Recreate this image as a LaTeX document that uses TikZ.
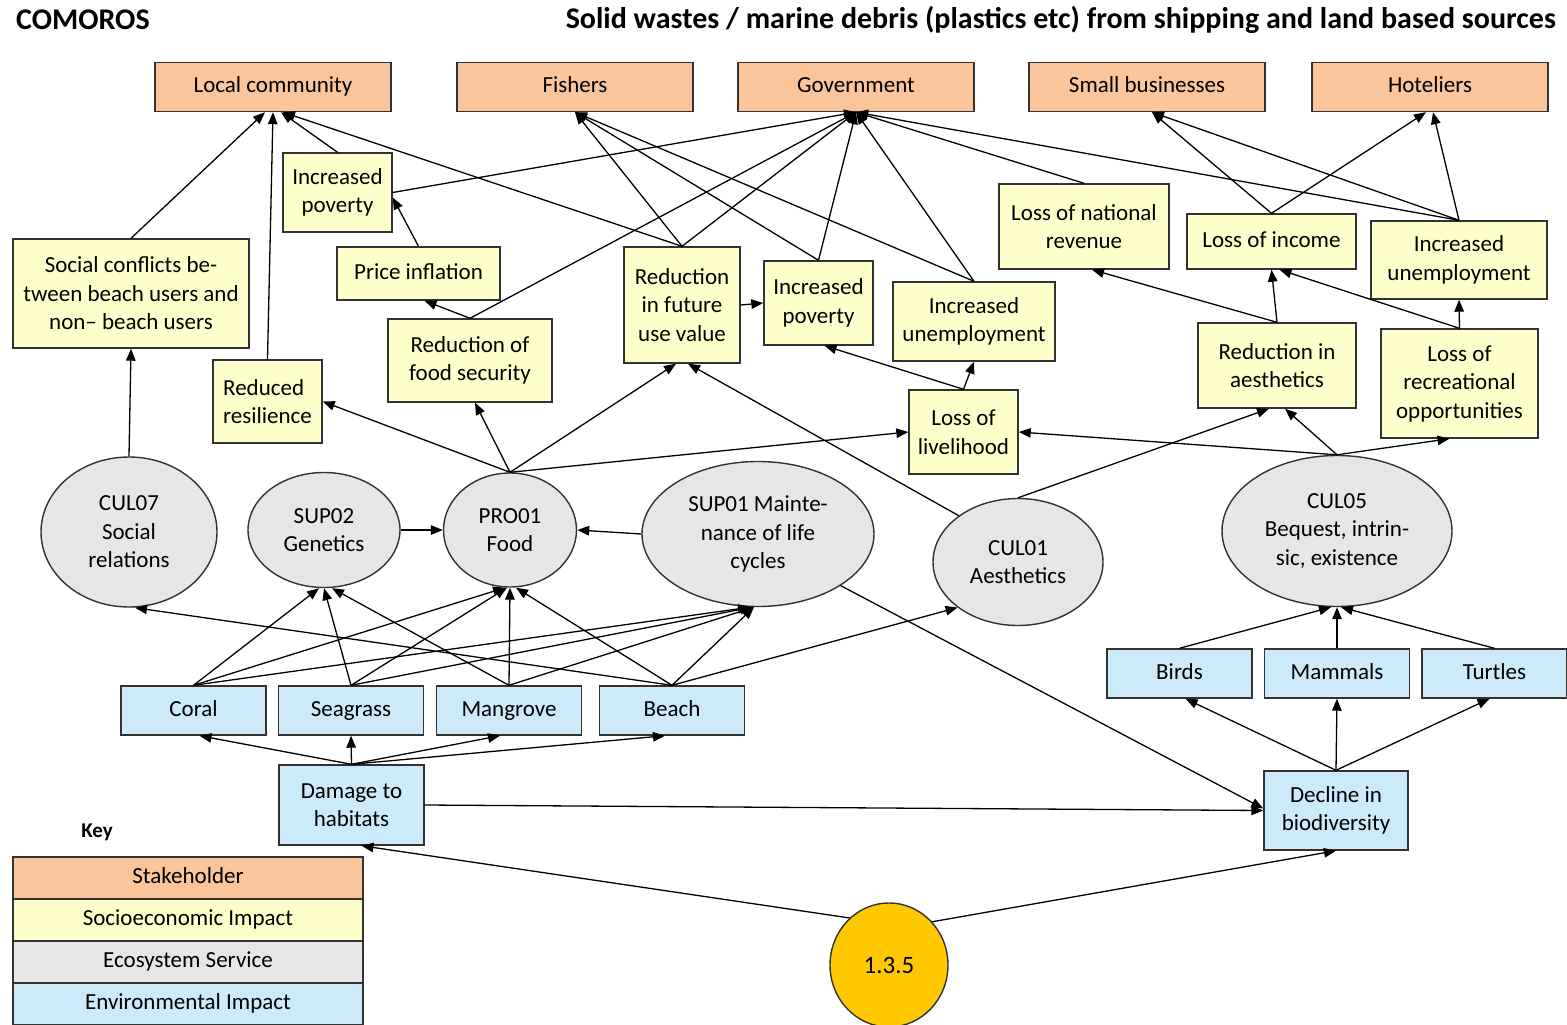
\documentclass[tikz,border=0pt]{standalone}
\usepackage{fontspec}
\setmainfont{Carlito}
\usetikzlibrary{arrows.meta,shapes.geometric}

\definecolor{stakefill}{RGB}{250,197,155}
\definecolor{sociofill}{RGB}{255,255,204}
\definecolor{ecofill}{RGB}{230,230,230}
\definecolor{envfill}{RGB}{204,234,250}
\definecolor{goldfill}{RGB}{255,200,0}
\definecolor{edgegray}{RGB}{50,50,50}

\newcommand{\nodefont}{\fontsize{23}{28.5}\selectfont}

\tikzset{
  box/.style={rectangle, draw=edgegray, line width=1.4pt, inner sep=2pt, align=center, font=\nodefont},
  oneline/.style={text height=16pt, text depth=5pt},
  stake/.style={box, oneline, fill=stakefill, minimum width=236pt, minimum height=49pt},
  socio/.style={box, fill=sociofill},
  envi/.style={box, fill=envfill},
  eco/.style={ellipse, draw=edgegray, line width=1.4pt, fill=ecofill, inner sep=0pt, align=center, font=\nodefont},
  keyrow/.style={rectangle, oneline, draw=edgegray, line width=1.4pt, minimum width=350pt, minimum height=42pt, font=\nodefont, inner sep=0pt},
  link/.style={line width=1.3pt, -{Triangle[length=12pt,width=9.5pt]}},
  heading/.style={font=\fontsize{30}{34}\selectfont\bfseries, inner sep=0pt},
}

\begin{document}
\begin{tikzpicture}[x=1pt,y=-1pt]
\useasboundingbox (0,0) rectangle (1567,1025);

% headings
\node[heading, anchor=west] (country) at (16,20) {COMOROS};
\node[heading, anchor=east] (pressure) at (1556,20) {Solid wastes / marine debris (plastics etc) from shipping and land based sources};

% stakeholders
\node[stake] (loc)   at (273,87)  {Local community};
\node[stake] (fish)  at (575,87)  {Fishers};
\node[stake] (gov)   at (856,87)  {Government};
\node[stake] (small) at (1147,87) {Small businesses};
\node[stake] (hotel) at (1430,87) {Hoteliers};

% socioeconomic impacts
\node[socio, minimum width=109pt, minimum height=79pt]  (povL)   at (337.5,192.5) {Increased\\poverty};
\node[socio, minimum width=236pt, minimum height=109pt] (social) at (131,293.5)   {Social conflicts be-\\tween beach users and\\non-- beach users};
\node[socio, oneline, minimum width=163pt, minimum height=53pt]  (price)  at (418.5,273.5) {Price inflation};
\node[socio, minimum width=164pt, minimum height=83pt]  (food)   at (470,360.5)   {Reduction of\\food security};
\node[socio, align=left, minimum width=109pt, minimum height=83pt]  (resil)  at (267.5,401.5) {Reduced\\resilience};
\node[socio, minimum width=116pt, minimum height=116pt] (future) at (682,305)     {Reduction\\in future\\use value};
\node[socio, minimum width=109pt, minimum height=84pt]  (povM)   at (818.5,303)   {Increased\\poverty};
\node[socio, minimum width=162pt, minimum height=79pt]  (unempM) at (974,321.5)   {Increased\\unemployment};
\node[socio, minimum width=109pt, minimum height=84pt]  (liveli) at (963.5,432)   {Loss of\\livelihood};
\node[socio, minimum width=170pt, minimum height=85pt]  (natrev) at (1084,226.5)  {Loss of national\\revenue};
\node[socio, oneline, minimum width=169pt, minimum height=55pt]  (income) at (1271.5,241.5) {Loss of income};
\node[socio, minimum width=176pt, minimum height=78pt]  (unempR) at (1459,260)    {Increased\\unemployment};
\node[socio, minimum width=158pt, minimum height=85pt]  (aesth)  at (1277,365.5)  {Reduction in\\aesthetics};
\node[socio, minimum width=157pt, minimum height=109pt] (recre)  at (1459.5,383.5) {Loss of\\recreational\\opportunities};

% ecosystem services
\node[eco, minimum width=176pt, minimum height=150pt] (cul07) at (129,532)  {CUL07\\Social\\relations};
\node[eco, minimum width=152pt, minimum height=115pt] (sup02) at (324,530)  {SUP02\\Genetics};
\node[eco, minimum width=133pt, minimum height=114pt] (pro01) at (510,530)  {PRO01\\Food};
\node[eco, minimum width=232pt, minimum height=145pt] (sup01) at (758,534)  {SUP01 Mainte-\\nance of life\\cycles};
\node[eco, minimum width=170pt, minimum height=127pt] (cul01) at (1018,562) {CUL01\\Aesthetics};
\node[eco, minimum width=230pt, minimum height=151pt] (cul05) at (1337,531) {CUL05\\Bequest, intrin-\\sic, existence};

% environmental impacts
\node[envi, oneline, minimum width=145pt, minimum height=49pt] (coral)    at (193.5,710.5) {Coral};
\node[envi, oneline, minimum width=145pt, minimum height=49pt] (seagrass) at (351,710.5)   {Seagrass};
\node[envi, oneline, minimum width=145pt, minimum height=49pt] (mangrove) at (509,710.5)   {Mangrove};
\node[envi, oneline, minimum width=145pt, minimum height=49pt] (beach)    at (672,710.5)   {Beach};
\node[envi, minimum width=145pt, minimum height=80pt] (damage)   at (351.5,805)   {Damage to\\habitats};
\node[envi, oneline, minimum width=145pt, minimum height=49pt] (birds)    at (1179.5,673.5) {Birds};
\node[envi, oneline, minimum width=145pt, minimum height=49pt] (mammals)  at (1337,673.5)  {Mammals};
\node[envi, oneline, minimum width=145pt, minimum height=49pt] (turtles)  at (1494.5,673.5) {Turtles};
\node[envi, minimum width=144pt, minimum height=79pt] (decline)  at (1336,810.5)  {Decline in\\biodiversity};

% pressure
\node[ellipse, draw=edgegray, line width=1.4pt, fill=goldfill, minimum width=118pt, minimum height=124pt, inner sep=0pt, font=\fontsize{25}{29}\selectfont] (press) at (889,965) {1.3.5};

% key
\node[font=\fontsize{21}{25}\selectfont\bfseries, inner sep=0pt] (keytitle) at (97,832) {Key};
\node[keyrow, fill=stakefill] (k1) at (188,878)  {Stakeholder};
\node[keyrow, fill=sociofill] (k2) at (188,920)  {Socioeconomic Impact};
\node[keyrow, fill=ecofill]   (k3) at (188,962)  {Ecosystem Service};
\node[keyrow, fill=envfill]   (k4) at (188,1004) {Environmental Impact};

% links into stakeholders
\draw[link] (social.north) -- ([xshift=-8pt]loc.south);
\draw[link] (resil.north) -- (loc.south);
\draw[link] (povL.north) -- ([xshift=8pt]loc.south);
\draw[link] (future.north) -- ([xshift=10pt]loc.south);

\draw[link] (future.north) -- (fish.south);
\draw[link] (povM.north) -- (fish.south);
\draw[link] (unempM.north) -- (fish.south);

\draw[link] (povL.east) -- (gov.south);
\draw[link] (food.north) -- (gov.south);
\draw[link] (future.north) -- (gov.south);
\draw[link] (povM.north) -- (gov.south);
\draw[link] (unempM.north) -- (gov.south);
\draw[link] (natrev.north) -- (gov.south);
\draw[link] (unempR.north) -- (gov.south);

\draw[link] (income.north) -- ([xshift=5pt]small.south);
\draw[link] (unempR.north) -- ([xshift=5pt]small.south);
\draw[link] (income.north) -- ([xshift=-4pt]hotel.south);
\draw[link] (unempR.north) -- ([xshift=3pt]hotel.south);

% links among socioeconomic impacts
\draw[link] (price.north) -- ([yshift=-5pt]povL.east);
\draw[link] (food.north) -- ([xshift=6pt]price.south);
\draw[link] (future.east) -- (povM.west);
\draw[link] (liveli.north) -- ([xshift=6pt]povM.south);
\draw[link] (liveli.north) -- (unempM.south);
\draw[link] (aesth.north) -- ([xshift=8pt]natrev.south);
\draw[link] (aesth.north) -- (income.south);
\draw[link] (recre.north) -- ([xshift=8pt]income.south);
\draw[link] (recre.north) -- (unempR.south);

% links from ecosystem services
\draw[link] (cul07.north) -- (social.south);
\draw[link] (pro01.north) -- (resil.east);
\draw[link] (pro01.north) -- ([xshift=5pt]food.south);
\draw[link] (pro01.north) -- ([xshift=-6pt]future.south);
\draw[link] (pro01.north) -- (liveli.west);
\draw[link] (cul01.142) -- ([xshift=6pt]future.south);
\draw[link] (cul01.north) -- ([xshift=-8pt]aesth.south);
\draw[link] (cul05.north) -- ([xshift=8pt]aesth.south);
\draw[link] (cul05.north) -- (liveli.east);
\draw[link] (cul05.north) -- ([xshift=-10pt]recre.south);
\draw[link] (sup02.east) -- (pro01.west);
\draw[link] (sup01.west) -- (pro01.east);

% links from habitats
\draw[link] (coral.north) -- ([xshift=-5pt]sup02.south);
\draw[link] (coral.north) -- ([xshift=-5pt]pro01.south);
\draw[link] (coral.north) -- ([xshift=-8pt]sup01.south);
\draw[link] (seagrass.north) -- (sup02.south);
\draw[link] (seagrass.north) -- ([xshift=-3pt]pro01.south);
\draw[link] (seagrass.north) -- ([xshift=-6pt]sup01.south);
\draw[link] (mangrove.north) -- ([xshift=8pt]sup02.south);
\draw[link] (mangrove.north) -- (pro01.south);
\draw[link] (mangrove.north) -- ([xshift=-4pt]sup01.south);
\draw[link] (beach.north) -- ([xshift=6pt]cul07.south);
\draw[link] (beach.north) -- ([xshift=6pt]pro01.south);
\draw[link] (beach.north) -- ([xshift=-4pt]sup01.south);
\draw[link] (beach.north) -- (cul01.217);

% links from damage to habitats and decline in biodiversity
\draw[link] (damage.north) -- ([xshift=6pt]coral.south);
\draw[link] (damage.north) -- (seagrass.south);
\draw[link] (damage.north) -- ([xshift=-9pt]mangrove.south);
\draw[link] (damage.north) -- ([xshift=-7pt]beach.south);
\draw[link] (damage.east) -- (decline.west);
\draw[link] (sup01.-32) -- ([yshift=2pt]decline.west);
\draw[link] (decline.north) -- ([xshift=6pt]birds.south);
\draw[link] (decline.north) -- (mammals.south);
\draw[link] (decline.north) -- ([xshift=-5pt]turtles.south);
\draw[link] (birds.north) -- ([xshift=-6pt]cul05.south);
\draw[link] (mammals.north) -- (cul05.south);
\draw[link] (turtles.north) -- ([xshift=4pt]cul05.south);

% pressure links
\draw[link] (press.130) -- ([xshift=10pt]damage.south);
\draw[link] (press.45) -- (decline.south);
\end{tikzpicture}
\end{document}
